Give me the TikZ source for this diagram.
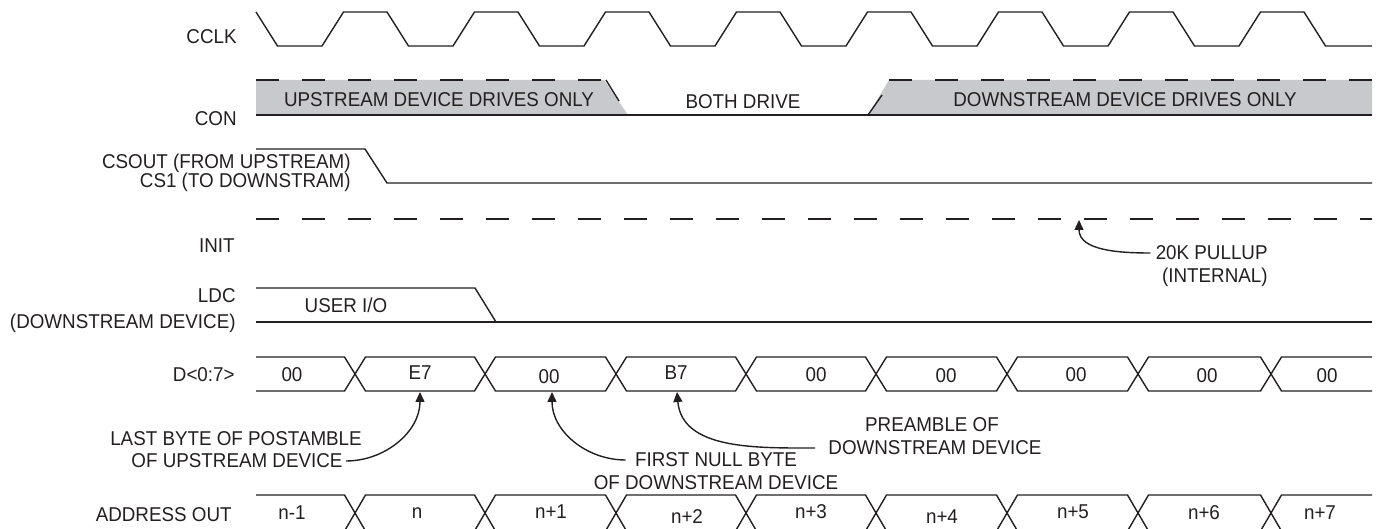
\documentclass[tikz,border=0pt]{standalone}
\usepackage{fontspec}
\setmainfont{Liberation Sans}[FakeStretch=0.94]
\usetikzlibrary{arrows.meta}
\definecolor{inkblack}{RGB}{35,31,32}
\definecolor{drivegray}{RGB}{200,201,204}

\begin{document}
\begin{tikzpicture}[x=0.5pt, y=-0.5pt,
    lbl/.style={font=\fontsize{10}{12}\selectfont, text=inkblack, inner sep=1.5pt},
    wave/.style={line width=0.7pt, color=inkblack},
    pulled/.style={line width=1.1pt, color=inkblack, dash pattern=on 11.5pt off 11.5pt},
    pointer/.style={line width=0.7pt, color=inkblack, -{Triangle[length=5pt, width=4.5pt]}}]
    \useasboundingbox (0,0) rectangle (1377,529);
    \clip (0,0) rectangle (1377,529);

    % CCLK
    \node[lbl, anchor=east] (cclk) at (240,37) {CCLK};
    \draw[wave] (256,12) -- (277.5,46) -- (322,46) -- (343.5,12) -- (387,12) -- (408.5,46)
        -- (453,46) -- (474.5,12) -- (518,12) -- (539.5,46)
        -- (584,46) -- (605.5,12) -- (649,12) -- (670.5,46)
        -- (715,46) -- (736.5,12) -- (780,12) -- (801.5,46)
        -- (846,46) -- (867.5,12) -- (911,12) -- (932.5,46)
        -- (977,46) -- (998.5,12) -- (1042,12) -- (1063.5,46)
        -- (1108,46) -- (1129.5,12) -- (1173,12) -- (1194.5,46)
        -- (1239,46) -- (1260.5,12) -- (1304,12) -- (1325.5,46) -- (1372,46);

    % CON
    \node[lbl, anchor=east] (con) at (240,119) {CON};
    \fill[drivegray] (256,80) -- (604,80) -- (628,115) -- (256,115) -- cycle;
    \fill[drivegray] (868,115) -- (889,80) -- (1372,80) -- (1372,115) -- cycle;
    \draw[pulled] (256,80) -- (604,80);
    \draw[pulled] (889,80) -- (1372,80);
    \draw[wave] (606,80) -- (619,101);
    \draw[wave] (868,115) -- (882,95);
    \draw[wave] (256,115) -- (1372,115);
    \node[lbl] (upstream) at (439,100) {UPSTREAM DEVICE DRIVES ONLY};
    \node[lbl] (both) at (743,102) {BOTH DRIVE};
    \node[lbl] (downstream) at (1125,100) {DOWNSTREAM DEVICE DRIVES ONLY};

    % CSOUT / CS1
    \node[lbl, anchor=east] (csout) at (354,163) {CSOUT (FROM UPSTREAM)};
    \node[lbl, anchor=east] (csone) at (354,182) {CS1 (TO DOWNSTRAM)};
    \draw[wave] (256,149) -- (365,149) -- (387,183) -- (1372,183);

    % INIT
    \node[lbl, anchor=east] (init) at (238,246) {INIT};
    \draw[pulled] (256,219) -- (1372,219);
    \coordinate (pulltip) at (1079,220);
    \node[lbl, anchor=east] (pullA) at (1271,253) {20K PULLUP};
    \node[lbl, anchor=east] (pullB) at (1271,277) {(INTERNAL)};
    \draw[pointer] ([xshift=-1pt]pullA.west) to[out=180, in=-90] (pulltip);

    % LDC
    \node[lbl, anchor=east] (ldc) at (239,296) {LDC};
    \node[lbl, anchor=east] (ldcdev) at (239,323) {(DOWNSTREAM DEVICE)};
    \node[lbl] (userio) at (346,305) {USER I/O};
    \draw[wave] (256,288) -- (475,288) -- (496,322);
    \draw[wave] (256,322) -- (1372,322);

    % D<0:7>
    \node[lbl, anchor=east] (dbus) at (238,375) {D<0:7>};
    \draw[wave] (256,357) -- (344.5,357) -- (365.5,391) -- (474.5,391) -- (495.5,357)
        -- (605.5,357) -- (626.5,391) -- (735.5,391) -- (756.5,357) -- (865.5,357)
        -- (886.5,391) -- (996.5,391) -- (1017.5,357) -- (1127.5,357) -- (1148.5,391)
        -- (1260.5,391) -- (1281.5,357) -- (1372,357);
    \draw[wave] (256,391) -- (344.5,391) -- (365.5,357) -- (474.5,357) -- (495.5,391)
        -- (605.5,391) -- (626.5,357) -- (735.5,357) -- (756.5,391) -- (865.5,391)
        -- (886.5,357) -- (996.5,357) -- (1017.5,391) -- (1127.5,391) -- (1148.5,357)
        -- (1260.5,357) -- (1281.5,391) -- (1372,391);
    \node[lbl] (d0) at (292,375) {00};
    \node[lbl] (d1) at (420,373) {E7};
    \node[lbl] (d2) at (549,377) {00};
    \node[lbl] (d3) at (676,373) {B7};
    \node[lbl] (d4) at (816,375) {00};
    \node[lbl] (d5) at (946,376) {00};
    \node[lbl] (d6) at (1076,375) {00};
    \node[lbl] (d7) at (1207,376) {00};
    \node[lbl] (d8) at (1327,376) {00};

    % Notes on the data bus
    \coordinate (tipE) at (420,392);
    \coordinate (tipF) at (552,392);
    \coordinate (tipP) at (677,392);
    \node[lbl] (lastA) at (236,439) {LAST BYTE OF POSTAMBLE};
    \node[lbl] (lastB) at (237,461) {OF UPSTREAM DEVICE};
    \draw[pointer] (lastB.east) to[out=0, in=-90] (tipE);
    \node[lbl] (firstA) at (716,460) {FIRST NULL BYTE};
    \node[lbl] (firstB) at (716,483) {OF DOWNSTREAM DEVICE};
    \draw[pointer] ([xshift=-3pt]firstA.west) to[out=180, in=-90] (tipF);
    \node[lbl] (preA) at (932,425) {PREAMBLE OF};
    \node[lbl] (preB) at (935,448) {DOWNSTREAM DEVICE};
    \draw[pointer] ([xshift=-5pt]preB.west) to[out=180, in=-85] (tipP);

    % ADDRESS OUT
    \node[lbl, anchor=east] (addr) at (235,515) {ADDRESS OUT};
    \draw[wave] (256,495) -- (344.5,495) -- (365.5,531) -- (474.5,531) -- (495.5,495)
        -- (605.5,495) -- (626.5,531) -- (735.5,531) -- (756.5,495) -- (865.5,495)
        -- (886.5,531) -- (996.5,531) -- (1017.5,495) -- (1127.5,495) -- (1148.5,531)
        -- (1260.5,531) -- (1281.5,495) -- (1372,495);
    \draw[wave] (256,531) -- (344.5,531) -- (365.5,495) -- (474.5,495) -- (495.5,531)
        -- (605.5,531) -- (626.5,495) -- (735.5,495) -- (756.5,531) -- (865.5,531)
        -- (886.5,495) -- (996.5,495) -- (1017.5,531) -- (1127.5,531) -- (1148.5,495)
        -- (1260.5,495) -- (1281.5,531) -- (1372,531);
    \node[lbl] (a0) at (292,513) {n-1};
    \node[lbl] (a1) at (417,513) {n};
    \node[lbl] (a2) at (551,512) {n+1};
    \node[lbl] (a3) at (687,517) {n+2};
    \node[lbl] (a4) at (811,512) {n+3};
    \node[lbl] (a5) at (942,517) {n+4};
    \node[lbl] (a6) at (1073,512) {n+5};
    \node[lbl] (a7) at (1204,513) {n+6};
    \node[lbl] (a8) at (1320,513) {n+7};
\end{tikzpicture}
\end{document}
